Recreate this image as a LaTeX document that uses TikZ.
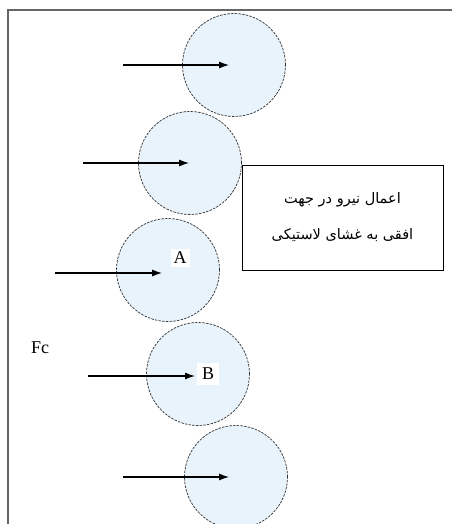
\documentclass[tikz,border=0pt]{standalone}
\usepackage{fontspec}
\setmainfont{Liberation Serif}
\newfontfamily\arabicfont[Script=Arabic]{DejaVu Sans}
\TeXXeTstate=1
\usepackage{tikz}
\usetikzlibrary{arrows.meta}
\definecolor{rollerfill}{RGB}{232,243,252}

\begin{document}
\begin{tikzpicture}[
        x=1pt, y=-1pt,
        font=\fontsize{18}{21}\selectfont,
        push/.style={-{Latex[length=10pt, width=7pt]}, line width=1.1pt},
        roller/.style={circle, draw=black!80, fill=rollerfill,
            dash pattern=on 2.5pt off 1.2pt, line width=0.7pt,
            minimum size=103pt, inner sep=0pt},
        tag/.style={fill=white, inner sep=3pt},
        note/.style={draw=black, fill=white, line width=0.8pt,
            minimum width=201pt, minimum height=105pt, align=center,
            font=\fontsize{14.5}{17}\selectfont\arabicfont}
    ]
        \useasboundingbox (0,0) rectangle (452,524);
        \fill[white] (0,0) rectangle (452,524);

        % Outer frame, only left and top edges are visible.
        \draw[black!60, line width=2pt] (8,524) -- (8,10) -- (452,10);

        % Chain of rollers.
        \node[roller] (r1) at (234,65) {};
        \node[roller] (r2) at (190,163) {};
        \node[roller] (r3) at (168,270) {};
        \node[roller] (r4) at (198,374) {};
        \node[roller] (r5) at (236,477) {};

        % Note box beside the second roller.
        \node[note] (note) at (342.5,217.5)
            {\beginR اعمال نیرو در جهت\endR\\[19pt]
             \beginR افقی به غشای لاستیکی\endR};

        \node[tag] (la) at (180,258) {A};
        \node[tag, inner sep=5pt] (lb) at (208,374) {B};
        \node (fc) at (40,348) {Fc};

        % Horizontal forces.
        \coordinate (t1) at (123,65);  \coordinate (h1) at (229,65);
        \coordinate (t2) at (83,163);  \coordinate (h2) at (189,163);
        \coordinate (t3) at (55,273);  \coordinate (h3) at (162,273);
        \coordinate (t4) at (88,376);  \coordinate (h4) at (195,376);
        \coordinate (t5) at (123,477); \coordinate (h5) at (229,477);
        \draw[push] (t1) -- (h1);
        \draw[push] (t2) -- (h2);
        \draw[push] (t3) -- (h3);
        \draw[push] (t4) -- (h4);
        \draw[push] (t5) -- (h5);
\end{tikzpicture}
\end{document}
